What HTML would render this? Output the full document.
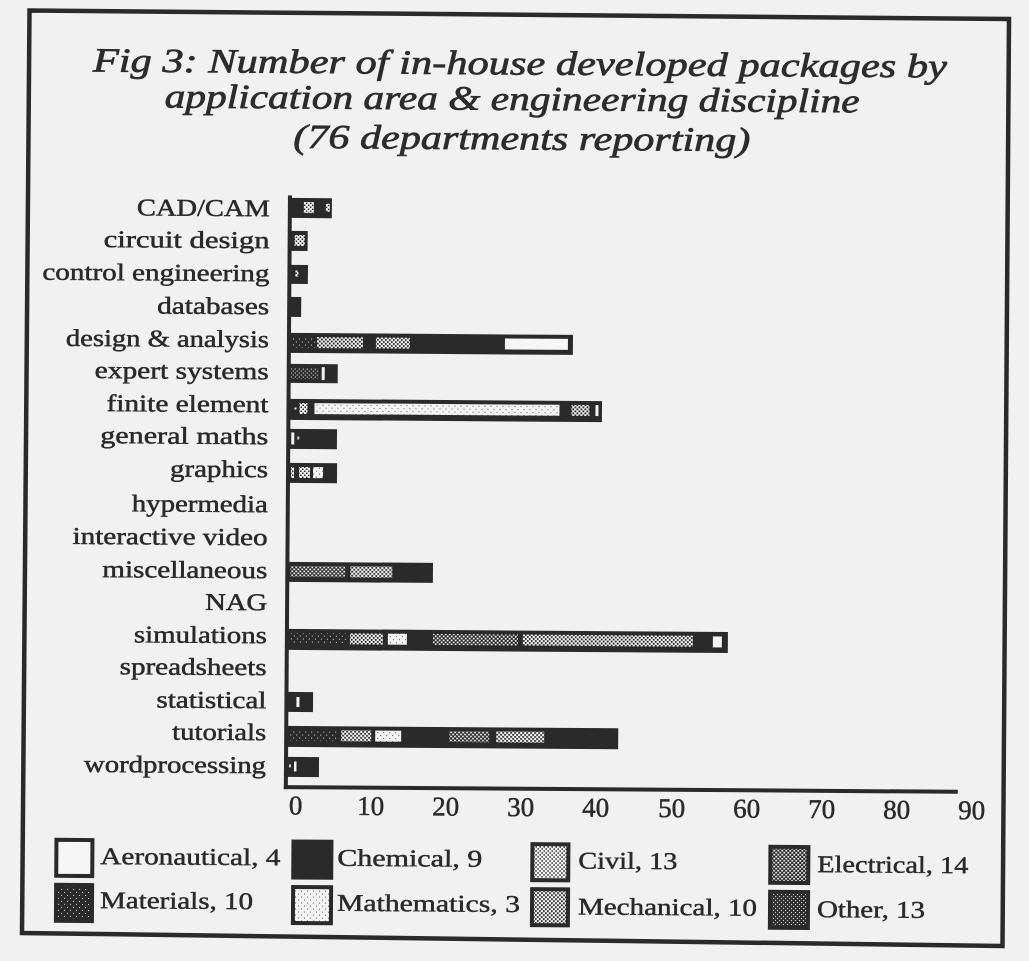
<!DOCTYPE html>
<html>
<head>
<meta charset="utf-8">
<style>
html,body{margin:0;padding:0;background:#f1f1f1;}
svg{display:block;}
</style>
</head>
<body>
<svg width="1029" height="961" viewBox="0 0 1029 961" xmlns="http://www.w3.org/2000/svg">
<defs>
  <pattern id="civ" width="4" height="4" patternUnits="userSpaceOnUse">
    <rect width="4" height="4" fill="#f3f3f3"/>
    <rect x="0" y="0" width="1.5" height="1.5" fill="#2a2a2a"/>
    <rect x="2" y="2" width="1.5" height="1.5" fill="#2a2a2a"/>
  </pattern>
  <pattern id="mec" width="4" height="4" patternUnits="userSpaceOnUse">
    <rect width="4" height="4" fill="#f3f3f3"/>
    <rect x="0" y="0" width="1.8" height="1.8" fill="#2a2a2a"/>
    <rect x="2" y="2" width="1.8" height="1.8" fill="#2a2a2a"/>
  </pattern>
  <pattern id="ele" width="4" height="4" patternUnits="userSpaceOnUse">
    <rect width="4" height="4" fill="#2a2a2a"/>
    <rect x="0" y="0" width="1.7" height="1.7" fill="#f3f3f3"/>
    <rect x="2" y="2" width="1.7" height="1.7" fill="#f3f3f3"/>
  </pattern>
  <pattern id="oth" width="4" height="4" patternUnits="userSpaceOnUse">
    <rect width="4" height="4" fill="#2a2a2a"/>
    <rect x="0" y="0" width="1.1" height="1.1" fill="#e8e8e8"/>
    <rect x="2" y="2" width="1.1" height="1.1" fill="#e8e8e8"/>
  </pattern>
  <pattern id="mat" width="6" height="6" patternUnits="userSpaceOnUse">
    <rect width="6" height="6" fill="#2a2a2a"/>
    <rect x="1" y="1" width="1" height="1" fill="#e0e0e0"/>
    <rect x="4" y="4" width="1" height="1" fill="#e0e0e0"/>
  </pattern>
  <pattern id="mth" width="6" height="6" patternUnits="userSpaceOnUse">
    <rect width="6" height="6" fill="#f3f3f3"/>
    <rect x="1" y="1" width="1" height="1" fill="#555"/>
    <rect x="4" y="4" width="1" height="1" fill="#555"/>
  </pattern>
</defs>

<rect x="0" y="0" width="1029" height="961" fill="#f1f1f1"/>

<!-- outer frame -->
<polygon points="29.5,10.5 1009,19 1002.5,946 22,933" fill="none" stroke="#2a2a2a" stroke-width="4.5" stroke-linejoin="miter"/>

<g transform="rotate(0.4 516 478)">
  <!-- title -->
  <g font-family="'Liberation Serif', 'DejaVu Serif', serif" font-style="italic" font-size="34" fill="#2c2c2c" stroke="#2c2c2c" stroke-width="0.7">
    <text x="90" y="74.5" textLength="854" lengthAdjust="spacingAndGlyphs">Fig 3:  Number of in-house developed packages by</text>
    <text x="162" y="110" textLength="695" lengthAdjust="spacingAndGlyphs">application area &amp; engineering discipline</text>
    <text x="291" y="149.5" textLength="457" lengthAdjust="spacingAndGlyphs">(76 departments reporting)</text>
  </g>

  <!-- category labels -->
  <g font-family="'Liberation Serif', 'DejaVu Serif', serif" font-size="24" fill="#2a2a2a" stroke="#2a2a2a" stroke-width="0.5">
    <text x="135" y="218" textLength="133" lengthAdjust="spacingAndGlyphs">CAD/CAM</text>
    <text x="102" y="250" textLength="166" lengthAdjust="spacingAndGlyphs">circuit design</text>
    <text x="41" y="283" textLength="227" lengthAdjust="spacingAndGlyphs">control engineering</text>
    <text x="156" y="316" textLength="112" lengthAdjust="spacingAndGlyphs">databases</text>
    <text x="65" y="349" textLength="203" lengthAdjust="spacingAndGlyphs">design &amp; analysis</text>
    <text x="94" y="381" textLength="174" lengthAdjust="spacingAndGlyphs">expert systems</text>
    <text x="106" y="414" textLength="162" lengthAdjust="spacingAndGlyphs">finite element</text>
    <text x="100" y="446" textLength="168" lengthAdjust="spacingAndGlyphs">general maths</text>
    <text x="170" y="479" textLength="98" lengthAdjust="spacingAndGlyphs">graphics</text>
    <text x="132" y="514" textLength="136" lengthAdjust="spacingAndGlyphs">hypermedia</text>
    <text x="73" y="547" textLength="195" lengthAdjust="spacingAndGlyphs">interactive video</text>
    <text x="103" y="580" textLength="165" lengthAdjust="spacingAndGlyphs">miscellaneous</text>
    <text x="206" y="612" textLength="62" lengthAdjust="spacingAndGlyphs">NAG</text>
    <text x="135" y="645" textLength="133" lengthAdjust="spacingAndGlyphs">simulations</text>
    <text x="121" y="677" textLength="147" lengthAdjust="spacingAndGlyphs">spreadsheets</text>
    <text x="158" y="710" textLength="110" lengthAdjust="spacingAndGlyphs">statistical</text>
    <text x="174" y="742" textLength="94" lengthAdjust="spacingAndGlyphs">tutorials</text>
    <text x="86" y="775" textLength="182" lengthAdjust="spacingAndGlyphs">wordprocessing</text>
  </g>

  <!-- bars -->
  <g fill="#2a2a2a">
    <!-- CAD/CAM -->
    <rect x="288" y="199.5" width="42" height="20"/>
    <rect x="302" y="203.5" width="10" height="11" fill="url(#civ)"/>
    <rect x="324" y="205" width="4" height="8" fill="url(#civ)"/>
    <!-- circuit design -->
    <rect x="288" y="232.5" width="18" height="20"/>
    <rect x="293" y="236.5" width="10" height="11" fill="url(#civ)"/>
    <!-- control engineering -->
    <rect x="288" y="266.5" width="18.5" height="19"/>
    <rect x="294" y="272" width="3" height="6" fill="url(#civ)"/>
    <!-- databases -->
    <rect x="288" y="298.5" width="12" height="20"/>
    <!-- design & analysis -->
    <rect x="288" y="334.5" width="284" height="20"/>
    <rect x="291" y="338.5" width="23" height="11" fill="url(#mat)"/>
    <rect x="316" y="338.5" width="46" height="11" fill="url(#mec)"/>
    <rect x="375" y="338.5" width="34" height="11" fill="url(#mec)"/>
    <rect x="504" y="338.5" width="63" height="11" fill="#f6f6f6"/>
    <!-- expert systems -->
    <rect x="288" y="365.5" width="49" height="19"/>
    <rect x="290" y="369.5" width="28" height="11" fill="url(#oth)"/>
    <rect x="321" y="368.5" width="3" height="13" fill="#f3f3f3"/>
    <!-- finite element -->
    <rect x="288" y="400.5" width="313.5" height="21"/>
    <rect x="294" y="409" width="2" height="2" fill="#f3f3f3"/>
    <rect x="299" y="404.5" width="8" height="11" fill="url(#civ)"/>
    <rect x="314" y="404.5" width="245" height="11" fill="url(#mth)"/>
    <rect x="571" y="404.5" width="18" height="11" fill="url(#mec)"/>
    <rect x="595" y="404.5" width="3" height="11" fill="#f3f3f3"/>
    <!-- general maths -->
    <rect x="288" y="430.5" width="48.7" height="20"/>
    <rect x="291" y="434" width="3" height="12" fill="#f3f3f3"/>
    <rect x="297" y="438" width="2" height="3" fill="#d0d0d0"/>
    <!-- graphics -->
    <rect x="288" y="464.5" width="49" height="20"/>
    <rect x="291" y="468.5" width="3" height="11" fill="url(#civ)"/>
    <rect x="299" y="468.5" width="11" height="11" fill="url(#civ)"/>
    <rect x="313" y="468.5" width="10" height="11" fill="url(#mth)"/>
    <!-- miscellaneous -->
    <rect x="288" y="563.5" width="145.6" height="20"/>
    <rect x="291" y="567.5" width="55" height="11" fill="url(#ele)"/>
    <rect x="351" y="567.5" width="42" height="11" fill="url(#mec)"/>
    <!-- simulations -->
    <rect x="288" y="630.5" width="441" height="21"/>
    <rect x="291" y="634.5" width="58" height="11" fill="url(#mat)"/>
    <rect x="351" y="634.5" width="33" height="11" fill="url(#mec)"/>
    <rect x="389" y="634.5" width="19" height="11" fill="url(#mth)"/>
    <rect x="434" y="634.5" width="85" height="11" fill="url(#ele)"/>
    <rect x="524" y="634.5" width="170" height="11" fill="url(#mec)"/>
    <rect x="714" y="635" width="9" height="11" fill="#f3f3f3"/>
    <!-- statistical -->
    <rect x="288" y="693.5" width="26.6" height="20"/>
    <rect x="298" y="698.5" width="3" height="10" fill="#f3f3f3"/>
    <!-- tutorials -->
    <rect x="288" y="727.5" width="332" height="21"/>
    <rect x="291" y="731.5" width="47" height="11" fill="url(#mat)"/>
    <rect x="343" y="731.5" width="30" height="11" fill="url(#mec)"/>
    <rect x="377" y="731.5" width="26" height="11" fill="url(#mth)"/>
    <rect x="451" y="731.5" width="40" height="11" fill="url(#ele)"/>
    <rect x="498" y="731.5" width="48" height="11" fill="url(#mec)"/>
    <!-- wordprocessing -->
    <rect x="288" y="758.5" width="33" height="20"/>
    <rect x="291" y="766" width="2" height="3" fill="#d0d0d0"/>
    <rect x="296" y="763" width="2.5" height="10" fill="#f3f3f3"/>
  </g>

  <!-- axes -->
  <line x1="288" y1="197" x2="288" y2="790.7" stroke="#2a2a2a" stroke-width="4"/>
  <line x1="286" y1="788.7" x2="960" y2="788.7" stroke="#2a2a2a" stroke-width="4"/>

  <!-- tick labels -->
  <g font-family="'Liberation Serif', 'DejaVu Serif', serif" font-size="27" fill="#2a2a2a" stroke="#2a2a2a" stroke-width="0.5" text-anchor="middle">
    <text x="298" y="816">0</text>
    <text x="373" y="816">10</text>
    <text x="448" y="816">20</text>
    <text x="523" y="816">30</text>
    <text x="598" y="816">40</text>
    <text x="674" y="816">50</text>
    <text x="749" y="816">60</text>
    <text x="824" y="816">70</text>
    <text x="899" y="816">80</text>
    <text x="974" y="816">90</text>
  </g>

  <!-- legend swatches -->
  <g stroke="#2a2a2a" stroke-width="4">
    <rect x="59" y="843" width="36" height="36" fill="#f6f6f6"/>
    <rect x="296" y="843" width="38" height="36" fill="#2a2a2a"/>
    <rect x="535" y="844" width="36" height="36" fill="url(#civ)"/>
    <rect x="773" y="845" width="38" height="36" fill="url(#ele)"/>
    <rect x="59" y="888" width="36" height="36" fill="url(#mat)"/>
    <rect x="296" y="888.5" width="38" height="36" fill="url(#mth)"/>
    <rect x="535" y="889" width="36" height="36" fill="url(#mec)"/>
    <rect x="773" y="890" width="38" height="36" fill="url(#oth)"/>
  </g>

  <!-- legend text -->
  <g font-family="'Liberation Serif', 'DejaVu Serif', serif" font-size="24" fill="#2a2a2a" stroke="#2a2a2a" stroke-width="0.45">
    <text x="103" y="867" textLength="180" lengthAdjust="spacingAndGlyphs">Aeronautical, 4</text>
    <text x="340" y="867" textLength="145" lengthAdjust="spacingAndGlyphs">Chemical, 9</text>
    <text x="581" y="868" textLength="99" lengthAdjust="spacingAndGlyphs">Civil, 13</text>
    <text x="820" y="870" textLength="151" lengthAdjust="spacingAndGlyphs">Electrical, 14</text>
    <text x="103" y="911" textLength="153" lengthAdjust="spacingAndGlyphs">Materials, 10</text>
    <text x="340" y="912" textLength="183" lengthAdjust="spacingAndGlyphs">Mathematics, 3</text>
    <text x="581" y="914" textLength="179" lengthAdjust="spacingAndGlyphs">Mechanical, 10</text>
    <text x="820" y="915" textLength="108" lengthAdjust="spacingAndGlyphs">Other, 13</text>
  </g>
</g>
</svg>
</body>
</html>
